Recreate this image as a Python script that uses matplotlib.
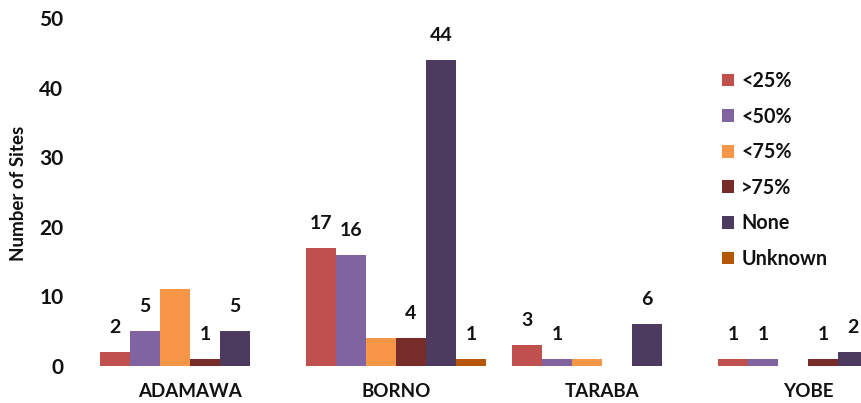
import matplotlib
matplotlib.use('Agg')
import matplotlib.pyplot as plt
import numpy as np

plt.rcParams['font.family'] = ['Lato', 'DejaVu Sans']
plt.rcParams['font.weight'] = 'bold'

states = ['ADAMAWA', 'BORNO', 'TARABA', 'YOBE']
series = ['<25%', '<50%', '<75%', '>75%', 'None', 'Unknown']
lt25 = [2, 17, 3, 1]
lt50 = [5, 16, 1, 1]
lt75 = [11, 4, 1, 0]
gt75 = [1, 4, 0, 1]
none = [5, 44, 6, 2]
unknown = [0, 1, 0, 0]
colors = ['#C0504D', '#8064A2', '#F79646', '#772C2A', '#4D3A5F', '#B65708']
show_labels = [True, True, False, True, True, True]

values = [lt25, lt50, lt75, gt75, none, unknown]

fig = plt.figure(figsize=(8.62, 4.03), dpi=100)
# the right-most group runs past the picture edge, as in the original
ax = fig.add_axes([87 / 862, 37 / 403, 824 / 862, 348 / 403])

x = np.arange(len(states))
w = 30 / 206
start = -90 / 206
for i, (name, vals) in enumerate(zip(series, values)):
    pos = x + start + (i + 0.5) * w
    ax.bar(pos, vals, width=w, color=colors[i], label=name)
    if show_labels[i]:
        for p, v in zip(pos, vals):
            if v > 0:
                ax.annotate(str(v), (p, v), xytext=(0, 13.5), textcoords='offset points',
                            ha='center', va='baseline', fontsize=14, fontweight='bold',
                            color='#111111')

ax.set_xlim(-0.5, 3.5)
ax.set_ylim(0, 50)
ax.set_yticks([0, 10, 20, 30, 40, 50])
ax.set_xticks(x)
ax.set_xticklabels(states, fontsize=13.5, fontweight='bold')
ax.tick_params(axis='y', length=0, pad=17, labelsize=15, labelcolor='#111111')
ax.tick_params(axis='x', length=0, pad=12, labelcolor='#111111')
for s in ax.spines.values():
    s.set_visible(False)

fig.text(19 / 862, 1 - 193 / 403, 'Number of Sites', rotation=90, ha='center', va='center',
         fontsize=13.5, fontweight='bold', color='#111111')

fig.legend(loc='upper left', bbox_to_anchor=(722 / 862, 1 - 71 / 403),
           bbox_transform=fig.transFigure, frameon=False, fontsize=14.2,
           handlelength=0.62, handleheight=0.62, handletextpad=0.35,
           labelspacing=0.79, borderpad=0, borderaxespad=0, labelcolor='#111111')

fig.savefig('out.png', dpi=100)
